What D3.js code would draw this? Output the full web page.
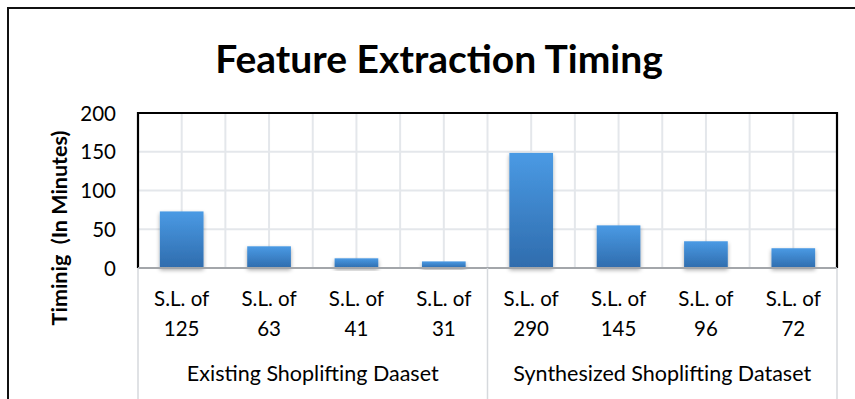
<!DOCTYPE html>
<html>
<head>
<meta charset="utf-8">
<script src="https://cdn.jsdelivr.net/npm/d3@7"></script>
<style>
  html, body { margin: 0; padding: 0; background: #fff; }
  svg { display: block; }
  text { font-family: Lato, "Open Sans", sans-serif; fill: #000; }
</style>
</head>
<body>
<svg id="chart" width="855" height="399"></svg>
<script>
// Feature extraction time per dataset / sequence length
const groups = ["Existing Shoplifting Daaset", "Synthesized Shoplifting Dataset"];
const categories = ["125", "63", "41", "31", "290", "145", "96", "72"];
const categoryGroup = [0, 0, 0, 0, 1, 1, 1, 1];
const minutes = [73, 28, 12.5, 8.5, 148.5, 55, 34.5, 25.5];
const yTicks = [0, 50, 100, 150, 200];

const svg = d3.select("#chart");
const W = 855, H = 399;
const plot = { left: 138, right: 837, top: 113, bottom: 268 };

svg.append("rect").attr("width", W).attr("height", H).attr("fill", "#fff");

// outer chart frame
svg.append("rect")
  .attr("x", 8).attr("y", 8)
  .attr("width", W + 20).attr("height", H + 20)
  .attr("fill", "none").attr("stroke", "#111").attr("stroke-width", 2);

const defs = svg.append("defs");
const grad = defs.append("linearGradient")
  .attr("id", "barFill").attr("x1", 0).attr("y1", 0).attr("x2", 0).attr("y2", 1);
grad.append("stop").attr("offset", "0%").attr("stop-color", "#4a9ae4");
grad.append("stop").attr("offset", "100%").attr("stop-color", "#2f6cad");

const shadow = defs.append("filter").attr("id", "barShadow")
  .attr("x", "-30%").attr("y", "-30%").attr("width", "160%").attr("height", "160%");
shadow.append("feGaussianBlur").attr("in", "SourceAlpha").attr("stdDeviation", 2.2).attr("result", "b");
shadow.append("feOffset").attr("in", "b").attr("dx", 0).attr("dy", 2).attr("result", "o");
shadow.append("feComponentTransfer").attr("in", "o").attr("result", "s")
  .append("feFuncA").attr("type", "linear").attr("slope", 0.35);
const merge = shadow.append("feMerge");
merge.append("feMergeNode").attr("in", "s");
merge.append("feMergeNode").attr("in", "SourceGraphic");

const x = d3.scaleBand().domain(d3.range(categories.length))
  .range([plot.left, plot.right]).padding(0);
const y = d3.scaleLinear().domain([0, 200]).range([plot.bottom, plot.top]);
const bw = x.bandwidth();

// gridlines
const grid = svg.append("g").attr("stroke", "#e4e7eb").attr("stroke-width", 2);
grid.selectAll("line.h").data(yTicks.filter(t => t > 0 && t < 200)).join("line")
  .attr("x1", plot.left).attr("x2", plot.right)
  .attr("y1", d => y(d)).attr("y2", d => y(d));
const vPos = d3.range(1, categories.length * 2).map(i => plot.left + i * bw / 2);
grid.selectAll("line.v").data(vPos).join("line")
  .attr("x1", d => d).attr("x2", d => d)
  .attr("y1", plot.top).attr("y2", plot.bottom);

// bars
svg.append("g").selectAll("rect").data(minutes).join("rect")
  .attr("x", (d, i) => x(i) + bw / 4)
  .attr("width", bw / 2)
  .attr("y", d => y(d))
  .attr("height", d => y(0) - y(d))
  .attr("fill", "url(#barFill)")
  .attr("filter", "url(#barShadow)");

// plot frame: dark left/top/right, grey category axis
svg.append("path")
  .attr("d", `M${plot.left},${plot.bottom}V${plot.top}H${plot.right}V${plot.bottom}`)
  .attr("fill", "none").attr("stroke", "#000").attr("stroke-width", 2.2);
svg.append("line")
  .attr("x1", plot.left).attr("x2", plot.right)
  .attr("y1", plot.bottom).attr("y2", plot.bottom)
  .attr("stroke", "#a3a6aa").attr("stroke-width", 2);

// y axis labels
const yAxis = d3.axisLeft(y).tickValues(yTicks).tickSize(0).tickPadding(22);
const yg = svg.append("g").attr("transform", `translate(${plot.left},0)`).call(yAxis);
yg.select(".domain").remove();
yg.selectAll("text").attr("font-size", 20.5).attr("font-family", "Lato, sans-serif")
  .attr("fill", "#000").attr("dy", "0.35em");

// multi-level category axis
const sep = [plot.left, x(4), plot.right];
svg.append("g").selectAll("line").data(sep).join("line")
  .attr("x1", d => d).attr("x2", d => d)
  .attr("y1", plot.bottom).attr("y2", H)
  .attr("stroke", "#d6d9dd").attr("stroke-width", 1.5);

const catLab = svg.append("g").selectAll("text").data(categories).join("text")
  .attr("text-anchor", "middle")
  .attr("font-size", 20.5)
  .attr("x", (d, i) => x(i) + bw / 2);
catLab.append("tspan").attr("x", (d, i) => x(i) + bw / 2).attr("y", 306).text("S.L. of");
catLab.append("tspan").attr("x", (d, i) => x(i) + bw / 2).attr("y", 336).text(d => d);

svg.append("g").selectAll("text").data(groups).join("text")
  .attr("text-anchor", "middle")
  .attr("font-size", 21.5)
  .attr("x", (d, gi) => {
    const idx = categoryGroup.map((g, i) => g === gi ? i : -1).filter(i => i >= 0);
    return (x(idx[0]) + x(idx[idx.length - 1]) + bw) / 2;
  })
  .attr("y", 381)
  .text(d => d);

// y axis title
svg.append("text")
  .attr("transform", "translate(67,228) rotate(-90)")
  .attr("text-anchor", "middle")
  .attr("font-size", 21.5).attr("font-weight", 700)
  .attr("xml:space", "preserve")
  .style("white-space", "pre")
  .text("Timinig  (In Minutes)");

// chart title
svg.append("text")
  .attr("x", 439).attr("y", 73)
  .attr("text-anchor", "middle")
  .attr("font-size", 39).attr("font-weight", 700)
  .text("Feature Extraction Timing");
</script>
</body>
</html>
